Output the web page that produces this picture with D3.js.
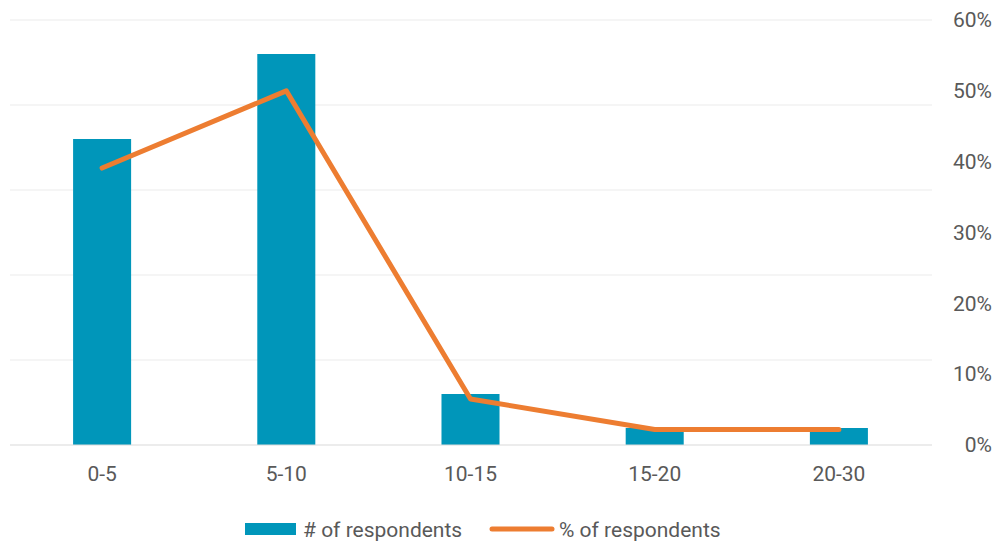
<!DOCTYPE html>
<html><head><meta charset="utf-8">
<script src="https://cdn.jsdelivr.net/npm/d3@7"></script>
<style>body{margin:0;background:#fff;} text{font-family:Roboto,"Noto Sans",sans-serif;fill:#595959;}</style>
</head><body>
<svg id="c" width="997" height="543"></svg>
<script>
const categories = ["0-5","5-10","10-15","15-20","20-30"];
const counts = [36,46,6,2,2];
const percents = [0.391,0.500,0.065,0.022,0.022];
const countTicks = [0,10,20,30,40,50];
const pctTicks = [0,0.1,0.2,0.3,0.4,0.5,0.6];

const svg = d3.select("#c");
const pLeft = 10, pRight = 931, pTop = 20, pBottom = 445;
const FS = 21;
const x = d3.scaleBand().domain(categories).range([pLeft,pRight]).paddingInner(0.685).paddingOuter(0.3425);
const yL = d3.scaleLinear().domain([0,50]).range([pBottom,pTop]);
const yR = d3.scaleLinear().domain([0,0.6]).range([pBottom,pTop]);

// gridlines
svg.append("g").selectAll("line").data(countTicks.filter(d=>d>0)).join("line")
  .attr("x1",pLeft).attr("x2",pRight+1).attr("y1",d=>yL(d)).attr("y2",d=>yL(d))
  .attr("stroke","#ececec").attr("stroke-width",1.2);

// bars
svg.append("g").selectAll("rect").data(counts).join("rect")
  .attr("x",(d,i)=>x(categories[i])).attr("width",x.bandwidth())
  .attr("y",d=>yL(d)).attr("height",d=>pBottom-yL(d)).attr("fill","#0096BA");

// baseline
svg.append("line").attr("x1",pLeft).attr("x2",pRight+1).attr("y1",pBottom).attr("y2",pBottom)
  .attr("stroke","#d9d9d9").attr("stroke-width",1.2);

// line
const line = d3.line().x((d,i)=>x(categories[i])+x.bandwidth()/2).y(d=>yR(d));
svg.append("path").datum(percents).attr("d",line).attr("fill","none")
  .attr("stroke","#ED7D31").attr("stroke-width",5).attr("stroke-linecap","round").attr("stroke-linejoin","round");

// right axis
const ra = svg.append("g").attr("transform",`translate(992,0)`)
  .call(d3.axisRight(yR).tickValues(pctTicks).tickFormat(d3.format(".0%")).tickSize(0).tickPadding(0));
ra.select(".domain").remove();
ra.selectAll("text").attr("text-anchor","end").attr("font-size",FS).attr("font-family","Roboto").style("fill","#595959");

// x axis
const xa = svg.append("g").attr("transform",`translate(0,${pBottom})`)
  .call(d3.axisBottom(x).tickSize(0).tickPadding(21));
xa.select(".domain").remove();
xa.selectAll("text").attr("font-size",FS).attr("font-family","Roboto").style("fill","#595959");

// legend
const lg = svg.append("g");
lg.append("rect").attr("x",245).attr("y",523).attr("width",51).attr("height",12).attr("fill","#0096BA");
lg.append("text").attr("x",303).attr("y",537).attr("font-size",FS).text("# of respondents");
lg.append("line").attr("x1",492).attr("x2",552).attr("y1",529).attr("y2",529)
  .attr("stroke","#ED7D31").attr("stroke-width",5).attr("stroke-linecap","round");
lg.append("text").attr("x",559).attr("y",537).attr("font-size",FS).text("% of respondents");
</script>
</body></html>
